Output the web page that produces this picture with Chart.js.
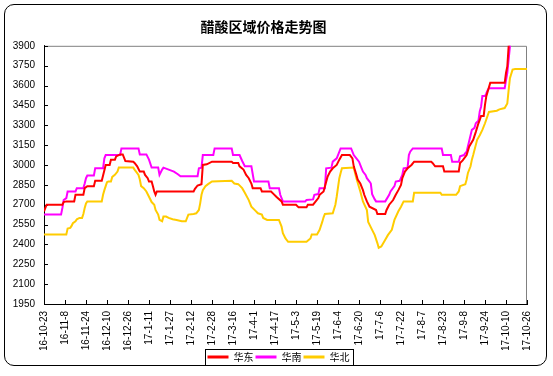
<!DOCTYPE html>
<html>
<head>
<meta charset="utf-8">
<script src="https://cdn.jsdelivr.net/npm/chart.js@4/dist/chart.umd.min.js"></script>
<style>
  html, body { margin: 0; padding: 0; background: #fff; }
  #wrap { position: relative; width: 553px; height: 376px; }
  #frame { position: absolute; left: 4px; top: 4px; width: 543px; height: 362px; box-sizing: border-box;
           border: 1px solid #000; border-radius: 10px; pointer-events: none; }
  canvas { position: absolute; left: 0; top: 0; }
</style>
</head>
<body>
<div id="wrap">
  <canvas id="c" width="553" height="376"></canvas>
  <div id="frame"></div>
</div>
<script>
// ---- data (day offset from 16-10-23, price) ----
const dateLabels = ['16-10-23','16-11-8','16-11-24','16-12-10','16-12-26','17-1-11','17-1-27','17-2-12',
  '17-2-28','17-3-16','17-4-1','17-4-17','17-5-3','17-5-19','17-6-4','17-6-20','17-7-6','17-7-22',
  '17-8-7','17-8-23','17-9-8','17-9-24','17-10-10','17-10-26'];
const seriesNames = ['华东', '华南', '华北'];

const eastDays = [0,2,14,15,17,23,24,30,31,33,38,39,44,45,47,50,51,54,55,58,60,62,68,69,71,73,76,77,79,80,82,83,84,85,86,
  114,115,117,120,121,124,128,143,144,148,149,152,154,156,158,159,165,166,173,175,177,181,182,192,194,200,201,205,207,209,210,
  213,216,218,220,223,225,227,233,235,236,238,239,241,243,244,246,248,253,254,260,261,263,266,268,270,272,273,275,277,280,282,
  295,296,298,304,305,316,317,319,322,324,327,329,331,332,333,335,336,337,340,351,352,353,354,356];
const eastPrices = [2650,2700,2700,2720,2725,2725,2775,2775,2825,2840,2840,2880,2880,2920,3000,3000,3040,3040,3065,3080,3080,3030,3025,3015,2990,2950,2950,2925,2900,2875,2875,2840,2800,2775,2800,
  2800,2820,2845,2855,3000,3005,3025,3025,3015,3015,2990,2965,2925,2900,2860,2825,2825,2800,2800,2780,2760,2725,2700,2700,2680,2680,2700,2700,2725,2750,2775,
  2800,2910,2950,2975,3000,3040,3075,3075,3050,2990,2925,2890,2860,2810,2775,2725,2685,2660,2630,2630,2660,2700,2735,2775,2810,2850,2900,2950,2975,3000,3025,
  3025,3015,2990,2990,2950,2950,3015,3035,3075,3140,3190,3250,3315,3340,3370,3370,3455,3520,3620,3620,3695,3745,3895,4100];

const southDays = [0,13,14,15,17,18,24,25,30,31,32,33,38,39,45,46,47,58,59,72,73,78,80,82,87,88,90,91,95,99,102,104,
  117,118,120,121,129,130,143,144,149,151,153,158,160,171,172,179,180,182,199,200,205,206,209,210,214,215,219,220,223,224,226,
  234,236,238,240,242,243,245,246,248,249,250,252,253,260,263,264,267,268,271,273,274,277,278,279,281,
  303,304,310,311,316,317,320,321,322,325,326,328,329,331,332,333,334,336,337,338,339,351,352,353,354,355,357];
const southPrices = [2625,2625,2675,2735,2750,2800,2800,2825,2825,2860,2900,2920,2920,2975,2975,3050,3075,3075,3125,3125,3080,3080,3040,2980,2980,2925,2965,2980,2965,2950,2930,2915,
  2915,2975,2980,3075,3075,3125,3125,3075,3075,3030,2990,2990,2875,2875,2825,2825,2775,2725,2725,2735,2740,2775,2780,2825,2825,2975,2980,3025,3050,3075,3125,
  3125,3075,3050,3025,2975,2950,2925,2900,2875,2860,2780,2740,2725,2725,2775,2800,2840,2875,2880,2925,2975,2980,3075,3100,3125,
  3125,3075,3075,3025,3025,3065,3075,3090,3100,3225,3265,3280,3315,3335,3405,3440,3520,3520,3540,3565,3580,3580,3640,3695,3795,3895,4100];

const northDays = [0,17,18,20,21,22,24,25,27,29,30,31,32,33,44,45,46,47,48,49,51,52,54,56,57,68,69,72,73,74,76,78,80,82,84,85,87,88,90,91,93,95,98,101,105,108,
  110,114,116,118,119,120,121,123,125,128,143,145,148,151,153,156,158,161,163,166,167,170,179,181,182,184,186,200,203,204,208,210,212,213,214,220,222,223,225,226,227,
  236,237,238,241,243,246,247,250,252,254,255,257,260,262,265,267,270,272,274,281,282,302,303,314,316,317,321,322,323,325,326,327,330,332,334,336,339,345,347,351,353,354,355,357,359,368];
const northPrices = [2475,2475,2520,2525,2540,2560,2575,2590,2600,2600,2630,2675,2710,2725,2725,2775,2810,2840,2870,2875,2875,2910,2925,2950,2980,2980,2965,2925,2890,2840,2825,2800,2760,2720,2700,2660,2625,2585,2575,2610,2610,2600,2590,2585,2575,2575,
  2625,2630,2635,2660,2710,2775,2810,2840,2855,2875,2880,2860,2855,2825,2790,2735,2685,2655,2635,2625,2600,2585,2585,2535,2485,2445,2420,2420,2445,2475,2475,2510,2570,2605,2630,2635,2700,2760,2900,2940,2975,
  2980,2940,2900,2800,2725,2660,2570,2510,2470,2410,2375,2385,2435,2470,2510,2585,2650,2685,2725,2725,2790,2790,2775,2775,2800,2840,2855,2890,2940,2990,3040,3075,3190,3225,3265,3315,3400,3410,3420,3430,3465,3565,3655,3720,3725,3725];

const yMin = 1950, yMax = 3900, yStep = 150;
const dayStep = 16, dayMax = 368;

function pts(days, prices) { return days.map((d, i) => ({x: d, y: prices[i]})); }

const colors = ['#FF0000', '#FF00FF', '#FFCC00'];

const decorPlugin = {
  id: 'decor',
  afterLayout(chart) {
    const lg = chart.legend;
    if (lg) { lg.left += 15; lg.right += 15; }
  },
  beforeDatasetsDraw(chart) {
    const {ctx, chartArea: a, scales} = chart;
    ctx.save();
    ctx.lineWidth = 1;
    ctx.strokeStyle = '#808080';
    ctx.beginPath();
    ctx.moveTo(a.left, a.top + 0.5);
    ctx.lineTo(a.right - 0.5, a.top + 0.5);
    ctx.lineTo(a.right - 0.5, a.bottom);
    ctx.stroke();
    ctx.strokeStyle = '#000';
    ctx.beginPath();
    scales.y.ticks.forEach(t => {
      const y = Math.round(scales.y.getPixelForValue(t.value)) + 0.5;
      ctx.moveTo(a.left, y); ctx.lineTo(a.left + 4, y);
    });
    scales.x.ticks.forEach(t => {
      const x = Math.round(scales.x.getPixelForValue(t.value)) + 0.5;
      ctx.moveTo(x, a.bottom); ctx.lineTo(x, a.bottom - 4);
    });
    ctx.stroke();
    ctx.restore();
  },
  afterDraw(chart) {
    const lg = chart.legend;
    if (!lg || !lg.legendHitBoxes || !lg.legendHitBoxes.length) return;
    const hb = lg.legendHitBoxes;
    const left = Math.min(...hb.map(h => h.left)) - 3;
    const right = Math.max(...hb.map(h => h.left + h.width)) + 3;
    const top = hb[0].top - 3;
    const bottom = hb[0].top + hb[0].height + 3;
    const ctx = chart.ctx;
    ctx.save();
    ctx.strokeStyle = '#000';
    ctx.lineWidth = 1;
    ctx.strokeRect(Math.round(left) + 0.5, Math.round(top) + 0.5, Math.round(right - left), Math.round(bottom - top));
    ctx.restore();
  }
};

new Chart(document.getElementById('c'), {
  type: 'line',
  data: {
    datasets: [
      {label: seriesNames[0], data: pts(eastDays, eastPrices)},
      {label: seriesNames[1], data: pts(southDays, southPrices)},
      {label: seriesNames[2], data: pts(northDays, northPrices)}
    ].map((d, i) => Object.assign(d, {
      borderColor: colors[i], backgroundColor: colors[i], borderWidth: 2,
      pointRadius: 0, tension: 0, fill: false
    }))
  },
  options: {
    responsive: false,
    animation: false,
    layout: {padding: {top: 0, left: 0, right: 26, bottom: 4}},
    plugins: {
      title: {
        display: true, text: '醋酸区域价格走势图', color: '#000',
        font: {family: '"Noto Sans CJK SC", sans-serif', size: 14, weight: 'bold', lineHeight: 1.2},
        padding: {top: 18, bottom: 11}
      },
      legend: {
        display: true, position: 'bottom',
        labels: {
          boxWidth: 21, boxHeight: 3, padding: 2, color: '#000',
          font: {family: '"Noto Sans CJK SC", sans-serif', size: 10},
          generateLabels(chart) {
            return Chart.defaults.plugins.legend.labels.generateLabels(chart).map(l => Object.assign(l, {lineWidth: 0}));
          }
        }
      },
      tooltip: {enabled: false}
    },
    scales: {
      x: {
        type: 'linear', min: 0, max: dayMax,
        afterFit(s) { s.height = 46; },
        grid: {display: false, drawTicks: false},
        border: {display: true, color: '#000', width: 1},
        ticks: {
          stepSize: dayStep, autoSkip: false, maxRotation: 90, minRotation: 90, padding: 7, color: '#000',
          font: {family: '"Liberation Sans", Arial, sans-serif', size: 10},
          callback: v => dateLabels[Math.round(v / dayStep)]
        }
      },
      y: {
        min: yMin, max: yMax,
        afterFit(s) { s.width = 44; },
        grid: {display: false, drawTicks: false},
        border: {display: true, color: '#000', width: 1},
        ticks: {
          stepSize: yStep, padding: 9, color: '#000',
          font: {family: '"Liberation Sans", Arial, sans-serif', size: 10},
          callback: v => String(v)
        }
      }
    }
  },
  plugins: [decorPlugin]
});
</script>
</body>
</html>
